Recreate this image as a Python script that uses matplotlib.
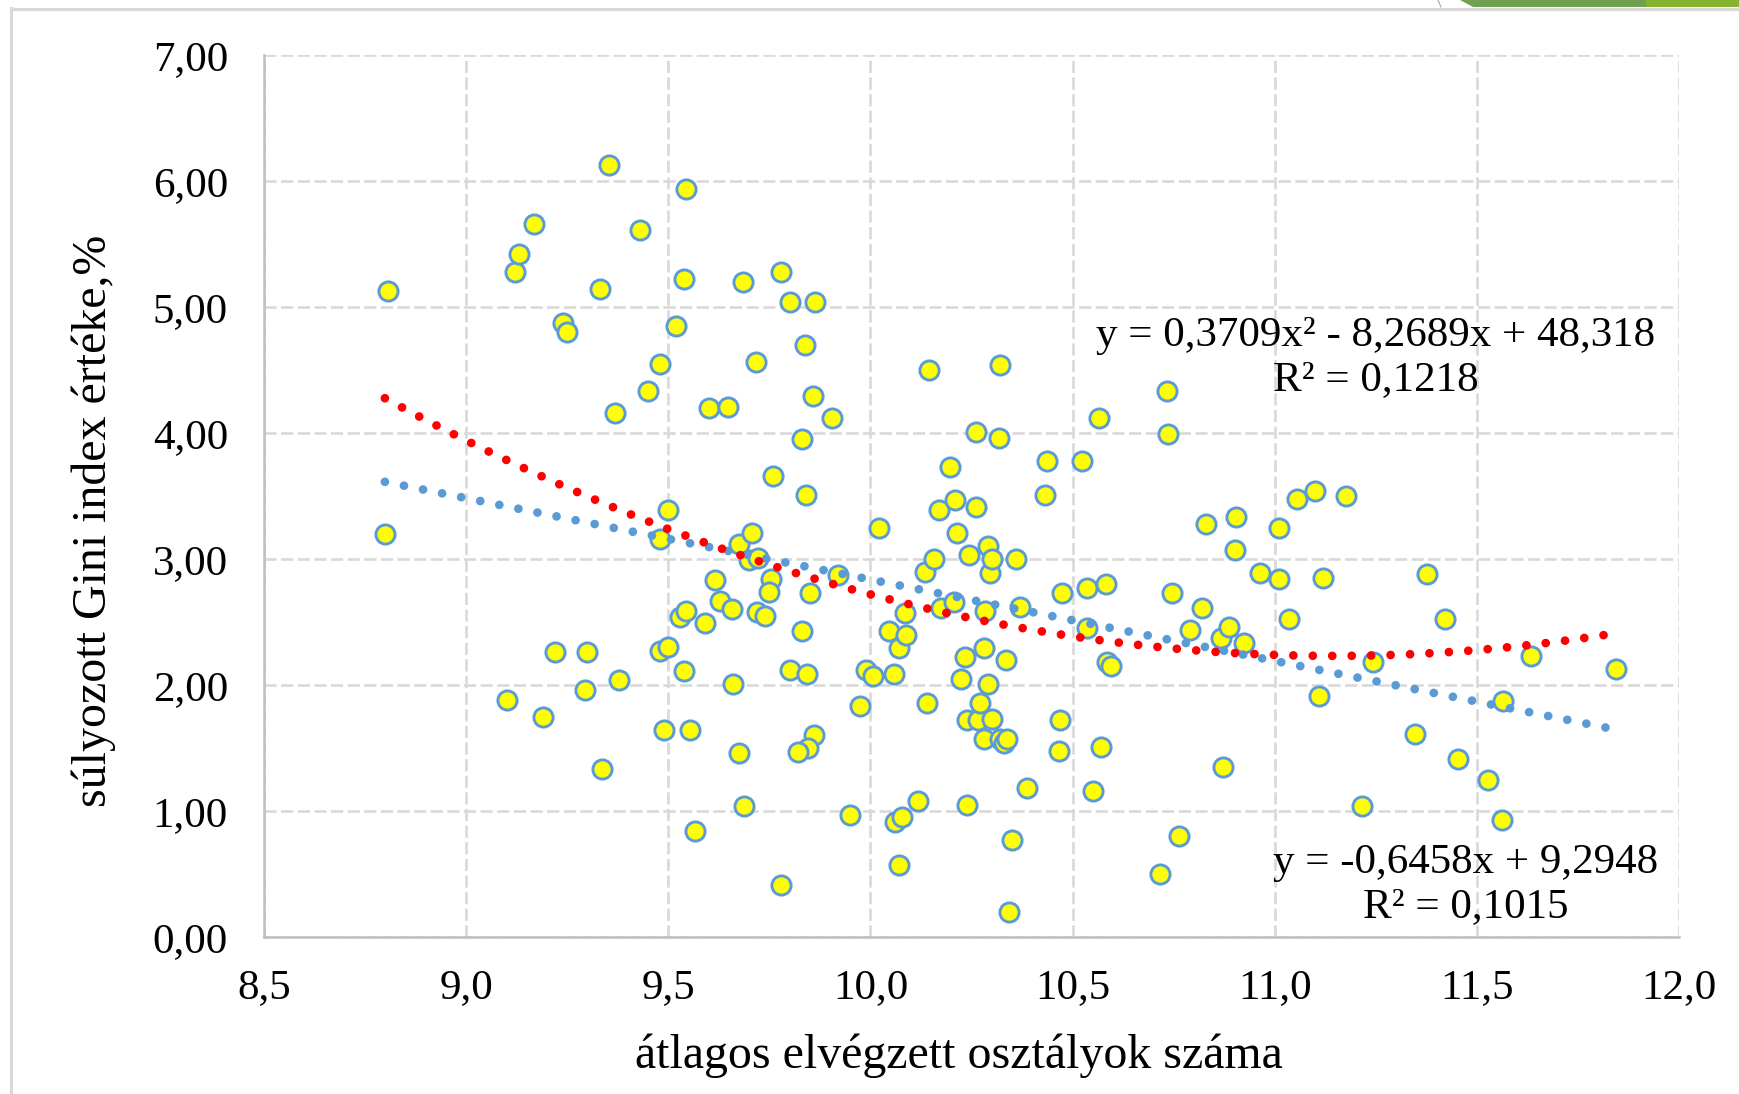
import matplotlib
matplotlib.use("Agg")
import matplotlib.pyplot as plt
import numpy as np
from matplotlib.patches import Polygon
from matplotlib.lines import Line2D

# ---------------- data ----------------
avg_classes = [
    8.807, 8.799, 9.12, 9.13, 9.167, 9.24, 9.25, 9.10, 9.19, 9.22,
    9.30, 9.295, 9.33, 9.353, 9.367, 9.378, 9.337, 9.43, 9.449, 9.48,
    9.48, 9.50, 9.49, 9.48, 9.50, 9.52, 9.54, 9.545, 9.53, 9.545,
    9.54, 9.553, 9.567, 9.59, 9.60, 9.647, 9.616, 9.627, 9.657, 9.66,
    9.674, 9.687, 9.674, 9.685, 9.707, 9.699, 9.723, 9.718, 9.72, 9.74,
    9.759, 9.753, 9.75, 9.78, 9.78, 9.80, 9.80, 9.838, 9.83, 9.84,
    9.83, 9.844, 9.85, 9.863, 9.858, 9.86, 9.846, 9.82, 9.904, 9.92,
    9.95, 9.973, 9.99, 10.006, 10.02, 10.047, 10.058, 10.07, 10.06, 10.077,
    10.07, 10.085, 10.088, 10.118, 10.14, 10.135, 10.157, 10.146, 10.17, 10.175,
    10.198, 10.21, 10.214, 10.206, 10.225, 10.233, 10.24, 10.24, 10.244, 10.26,
    10.26, 10.266, 10.27, 10.28, 10.28, 10.283, 10.29, 10.29, 10.296, 10.30,
    10.30, 10.318, 10.32, 10.32, 10.33, 10.337, 10.335, 10.343, 10.35, 10.36,
    10.37, 10.387, 10.436, 10.433, 10.47, 10.466, 10.475, 10.524, 10.535, 10.535,
    10.55, 10.565, 10.57, 10.582, 10.584, 10.595, 10.716, 10.733, 10.735, 10.746,
    10.763, 10.79, 10.82, 10.83, 10.872, 10.867, 10.886, 10.905, 10.903, 10.925,
    10.963, 11.01, 11.01, 11.035, 11.056, 11.10, 11.11, 11.12, 11.177, 11.215,
    11.242, 11.347, 11.377, 11.42, 11.454, 11.528, 11.561, 11.564, 11.635, 11.843,
]
gini = [
    5.13, 3.20, 5.28, 5.42, 5.66, 4.87, 4.80, 1.88, 1.75, 2.26,
    2.26, 1.96, 5.14, 6.13, 4.16, 2.04, 1.33, 5.61, 4.33, 4.55,
    2.27, 2.30, 1.64, 3.16, 3.39, 4.85, 5.22, 5.94, 2.54, 2.59,
    2.11, 1.64, 0.84, 2.49, 4.20, 4.21, 2.83, 2.67, 2.60, 2.01,
    1.46, 1.04, 3.12, 5.20, 3.21, 2.99, 3.01, 4.56, 2.58, 2.55,
    3.66, 2.84, 2.74, 5.28, 0.41, 5.04, 2.12, 4.70, 3.95, 3.51,
    2.43, 2.09, 2.73, 5.04, 4.29, 1.60, 1.50, 1.47, 4.12, 2.87,
    0.97, 1.83, 2.12, 2.07, 3.25, 2.43, 2.09, 2.29, 0.91, 0.95,
    0.57, 2.57, 2.40, 1.08, 1.86, 2.90, 3.00, 4.50, 3.39, 2.61,
    3.73, 3.47, 3.21, 2.66, 2.05, 2.22, 1.72, 1.05, 3.03, 4.01,
    3.41, 1.72, 1.86, 2.29, 1.57, 2.59, 2.01, 3.10, 2.89, 1.73,
    3.00, 3.96, 4.54, 1.57, 1.54, 1.57, 2.20, 0.20, 0.77, 3.00,
    2.62, 1.18, 3.78, 3.51, 1.72, 1.48, 2.73, 3.78, 2.77, 2.45,
    1.16, 4.12, 1.51, 2.80, 2.18, 2.15, 0.50, 4.33, 3.99, 2.73,
    0.80, 2.44, 2.61, 3.28, 1.35, 2.37, 2.46, 3.33, 3.07, 2.33,
    2.89, 2.84, 3.25, 2.52, 3.48, 3.54, 1.91, 2.85, 3.50, 1.04,
    2.18, 1.61, 2.88, 2.52, 1.41, 1.25, 0.93, 1.87, 2.23, 2.13,
]

# trendline coefficients as printed on the chart (highest power first)
poly2_coef = [0.3709, -8.2689, 48.318]
lin_coef = [-0.6458, 9.2948]
poly2_label = "y = 0,3709x² - 8,2689x + 48,318\nR² = 0,1218"
lin_label = "y = -0,6458x + 9,2948\nR² = 0,1015"

x_ticks = [8.5, 9.0, 9.5, 10.0, 10.5, 11.0, 11.5, 12.0]
y_ticks = [0, 1, 2, 3, 4, 5, 6, 7]
x_tick_labels = ["8,5", "9,0", "9,5", "10,0", "10,5", "11,0", "11,5", "12,0"]
y_tick_labels = ["0,00", "1,00", "2,00", "3,00", "4,00", "5,00", "6,00", "7,00"]
x_title = "átlagos elvégzett osztályok száma"
y_title = "súlyozott Gini index értéke,%"

# ---------------- figure ----------------
W, H = 1739, 1094
DPI = 100
plt.rcParams['font.family'] = ['Liberation Serif', 'DejaVu Serif']
FS = 31
FS_TITLE = 34.5

fig = plt.figure(figsize=(W / DPI, H / DPI), dpi=DPI)
fig.patch.set_facecolor("white")

L, R, T, B = 264, 1679, 55, 937
ax = fig.add_axes([L / W, 1 - B / H, (R - L) / W, (B - T) / H])

ax.set_xlim(8.5, 12.0)
ax.set_ylim(0, 7)
ax.set_xticks(x_ticks)
ax.set_xticklabels(x_tick_labels)
ax.set_yticks(y_ticks)
ax.set_yticklabels(y_tick_labels)
ax.tick_params(axis='both', length=0, labelsize=FS)
ax.tick_params(axis='x', pad=23)
ax.tick_params(axis='y', pad=26)

grid_col = "#D9D9D9"
ax.grid(True, color=grid_col, linestyle=(0, (4.6, 1.7)), linewidth=1.9, zorder=0)
ax.set_axisbelow(True)
for s in ("top", "right"):
    ax.spines[s].set_visible(False)
for s in ("left", "bottom"):
    ax.spines[s].set_color("#BFBFBF")
    ax.spines[s].set_linewidth(1.8)
    ax.spines[s].set_zorder(3)

xa = np.array(avg_classes)
ya = np.array(gini)

ax.plot(xa, ya, linestyle="none", marker="o", markersize=13.8,
        markerfacecolor="#FFFF00", markeredgecolor="#5B9BD5",
        markeredgewidth=2.1, zorder=4, clip_on=False)

xs = np.linspace(xa.min(), xa.max(), 400)
LW_T = 6.3
dot_style = (0, (0.001, 14.0 / LW_T))
ax.plot(xs, np.polyval(lin_coef, xs), color="#5B9BD5", linewidth=LW_T,
        linestyle=dot_style, dash_capstyle="round", zorder=5)
ax.plot(xs, np.polyval(poly2_coef, xs), color="#FF0000", linewidth=LW_T,
        linestyle=dot_style, dash_capstyle="round", zorder=6)

# trendline equations
fig.text(1376 / W, 1 - 358 / H, poly2_label, fontsize=FS, ha="center",
         va="center", multialignment="center", linespacing=1.2, zorder=7)
fig.text(1466 / W, 1 - 885 / H, lin_label, fontsize=FS, ha="center",
         va="center", multialignment="center", linespacing=1.2, zorder=7)

# axis titles
fig.text(959 / W, 1 - 1056 / H, x_title, fontsize=FS_TITLE, ha="center", va="center")
fig.text(94 / W, 1 - 521 / H, y_title, fontsize=FS_TITLE, ha="center", va="center",
         rotation=90)

# chart-area frame and slide decoration
frame_col = "#D9D9D9"
fig.add_artist(Line2D([11 / W, 11 / W], [1 - 8 / H, 0], color=frame_col,
                      linewidth=2.2, transform=fig.transFigure))
fig.add_artist(Line2D([11 / W, 1], [1 - 9 / H, 1 - 9 / H], color=frame_col,
                      linewidth=2.2, transform=fig.transFigure))
fig.add_artist(Polygon([[1460 / W, 1], [1646 / W, 1], [1646 / W, 1 - 7 / H],
                        [1473 / W, 1 - 7 / H]], closed=True,
                       facecolor="#70A050", edgecolor="none",
                       transform=fig.transFigure))
fig.add_artist(Polygon([[1646 / W, 1], [1, 1], [1, 1 - 7 / H],
                        [1646 / W, 1 - 7 / H]], closed=True,
                       facecolor="#84B42E", edgecolor="none",
                       transform=fig.transFigure))
fig.add_artist(Line2D([1438 / W, 1441 / W], [1, 1 - 7 / H], color="#A6A6A6",
                      linewidth=0.8, transform=fig.transFigure))

fig.savefig("out.png", dpi=DPI, facecolor="white")
